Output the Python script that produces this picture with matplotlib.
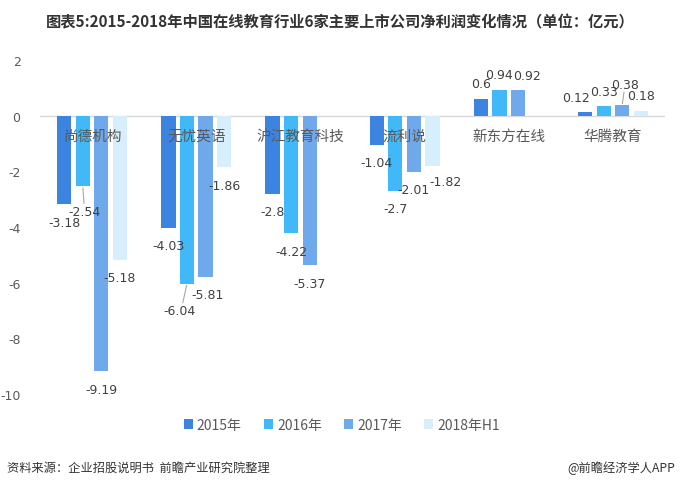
import matplotlib
matplotlib.use("Agg")
import matplotlib.pyplot as plt
import numpy as np

plt.rcParams['font.family'] = ['Noto Sans CJK SC', 'DejaVu Sans']

categories = ['尚德机构', '无忧英语', '沪江教育科技', '流利说', '新东方在线', '华腾教育']
series_names = ['2015年', '2016年', '2017年', '2018年H1']
v2015 = [-3.18, -4.03, -2.8, -1.04, 0.6, 0.12]
v2016 = [-2.54, -6.04, -4.22, -2.7, 0.94, 0.33]
v2017 = [-9.19, -5.81, -5.37, -2.01, 0.92, 0.38]
v2018h1 = [-5.18, -1.86, np.nan, -1.82, np.nan, 0.18]
yticks = [2, 0, -2, -4, -6, -8, -10]

series = [v2015, v2016, v2017, v2018h1]
colors = ['#3D83E0', '#41B8F8', '#70A8EC', '#D7EEFC']

# special label offsets in pixels (dx, dy) and leader-line flags
special = {
    (0, 1): (2, -25, True),
    (1, 1): (-7, -27, True),
    (1, 2): (2, -17, False),
    (3, 3): (13, -15, False),
    (4, 2): (9, 15, False),
    (5, 0): (-9, 15, False),
    (5, 2): (3, 21, True),
}

fig = plt.figure(figsize=(6.8, 4.85), dpi=100)
ax = fig.add_axes([40 / 680, 1 - 395 / 485, 625 / 680, (395 - 61) / 485])

n = len(categories)
x = np.arange(n)
step = 0.178
bw = 0.137
for s, vals in enumerate(series):
    xs = x + (s - 1.5) * step
    ax.bar(xs, vals, width=bw, color=colors[s], label=series_names[s], zorder=2)
    for i, v in enumerate(vals):
        if np.isnan(v):
            continue
        if (i, s) in special:
            dx, dy, lead = special[(i, s)]
        else:
            dx, dy, lead = 0, (15 if v > 0 else -18), False
        ax.annotate(f'{v:g}', xy=(xs[i], v), xytext=(dx, dy), textcoords='offset pixels',
                    ha='center', va='center', fontsize=9, color='#404040',
                    family=['DejaVu Sans'], zorder=4)
        if lead:
            sgn = 1 if dy > 0 else -1
            ax.annotate('', xy=(xs[i], v), xytext=(dx * 0.6, dy - sgn * 8),
                        textcoords='offset pixels',
                        arrowprops=dict(arrowstyle='-', color='#A6A6A6', lw=0.8,
                                        shrinkA=0, shrinkB=1))

for i, c in enumerate(categories):
    ax.annotate(c, xy=(x[i], 0), xytext=(0, -20), textcoords='offset pixels',
                ha='center', va='center', fontsize=10.5, color='#595959', zorder=5)

ax.axhline(0, color='#D9D9D9', lw=1, zorder=1)
ax.set_xlim(-0.5, n - 0.5)
ax.set_ylim(-10, 2)
ax.set_yticks(yticks)
ax.set_yticklabels([str(t) for t in yticks], color='#595959', fontsize=9,
                   family=['DejaVu Sans'])
ax.tick_params(axis='y', length=0, pad=14)
ax.set_xticks([])
for sp in ax.spines.values():
    sp.set_visible(False)

leg = fig.legend(loc='center', bbox_to_anchor=(342 / 680, 1 - 426 / 485), ncol=4,
                 frameon=False, fontsize=10, handlelength=0.65, handleheight=0.65,
                 handletextpad=0.3, columnspacing=1.6)
for t in leg.get_texts():
    t.set_color('#595959')

fig.text(340 / 680, 1 - 22 / 485, '图表5:2015-2018年中国在线教育行业6家主要上市公司净利润变化情况（单位：亿元）',
         ha='center', va='center', fontsize=11, fontweight='bold', color='#333333')
fig.text(7 / 680, 1 - 468 / 485, '资料来源：企业招股说明书  前瞻产业研究院整理',
         ha='left', va='center', fontsize=8.8, style='italic', color='#333333')
fig.text(675 / 680, 1 - 468 / 485, '@前瞻经济学人APP',
         ha='right', va='center', fontsize=8.8, color='#333333')

fig.savefig('out.png', dpi=100)
